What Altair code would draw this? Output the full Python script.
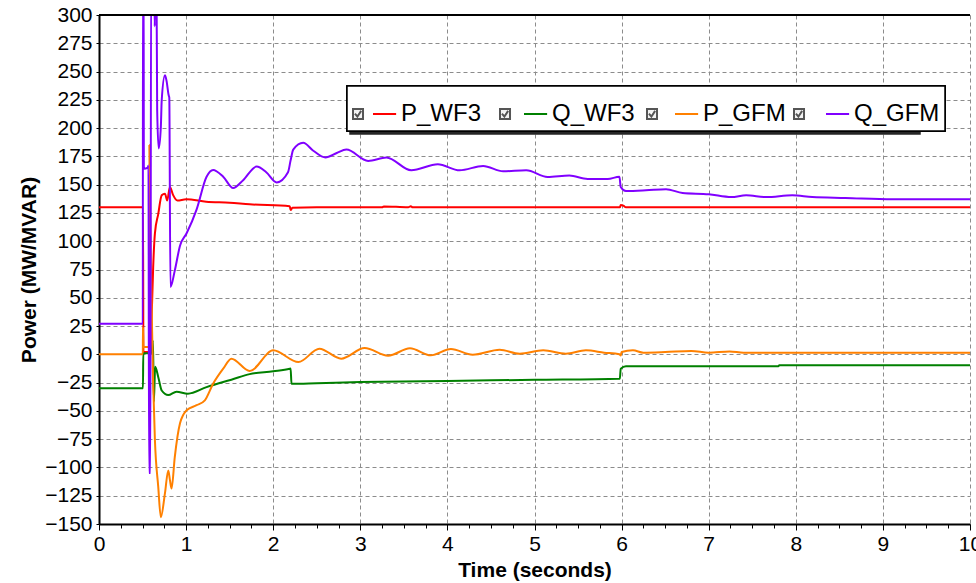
import altair as alt
import pandas as pd

FONT = "Liberation Sans"

series_names = ["P_WF3", "Q_WF3", "P_GFM", "Q_GFM"]
series_colors = ["#ff0000", "#008000", "#ff8000", "#8000ff"]

# P_WF3 (red)
p_wf3_t = [0, 0.505, 0.51, 0.59, 0.60, 0.61, 0.622, 0.642, 0.68, 0.72, 0.757, 0.783, 0.814, 0.85, 0.9,
           1.0, 1.23, 1.5, 1.73, 2.19, 2.2, 2.22, 2.5, 3.25, 3.27, 3.55, 3.58, 3.6, 5.98, 5.99, 6.02, 6.05, 10]
p_wf3_v = [130, 130, 2, 2, 25, 47, 77, 107, 124, 140.6, 142, 136, 148, 141, 136,
           137, 135, 134, 132.6, 131, 127.5, 129.5, 130, 130, 130.8, 130, 131, 130, 130, 132, 131.5, 130, 130]

# Q_WF3 (green)
q_wf3_t = [0, 0.505, 0.508, 0.60, 0.62, 0.63, 0.645, 0.68, 0.72, 0.795, 0.89, 1.02, 1.235, 1.426, 1.52,
           1.73, 2.0, 2.19, 2.2, 2.21, 2.5, 3.0, 4.0, 5.0, 5.98, 5.99, 6.05, 7.8, 7.81, 10]
q_wf3_v = [-30, -30, 1, 1, 12, -42, -11, -20, -32, -36, -33, -34.8, -29, -24.5, -22.4,
           -17.5, -15, -12.7, -12.5, -26, -25.5, -24.5, -23.5, -22.5, -21.5, -12.7, -10.6, -10.6, -9.7, -9.7]

# P_GFM (orange)
p_gfm_t = [0, 0.503, 0.505, 0.51, 0.575, 0.578, 0.58, 0.6, 0.62, 0.642, 0.68, 0.71, 0.757, 0.795, 0.814,
           0.833, 0.87, 0.93, 1.006, 1.12, 1.215, 1.31, 1.426, 1.52, 1.73, 2.0, 2.29,
           2.53, 2.78, 3.05, 3.32, 3.57, 3.81, 4.04, 4.29,
           4.6, 4.83, 5.1, 5.36, 5.59, 5.8, 5.975, 5.99, 6.0, 6.13, 6.25,
           6.5, 6.8, 7.0, 7.24, 7.4, 10]
p_gfm_v = [0, 0, 24, 6.5, 6.5, 185, 167, 60, -20, -76, -117, -144, -123, -102.6, -111,
           -118.7, -90.8, -61, -49.5, -45, -40.7, -26, -12.7, -3.8, -14.7, 3.5, -6.8,
           5, -3.8, 5.6, -1.2, 5.3, -0.9, 4.7, -0.3,
           4.1, 0.6, 3.5, 0.6, 3.5, 1.5, 0, -1, 2, 3.5, 1.5,
           2, 3, 1.5, 2.6, 1.5, 1.5]

# Q_GFM (purple)
q_gfm_t = [0, 0.503, 0.505, 0.512, 0.515, 0.56, 0.568, 0.575, 0.59, 0.598, 0.63, 0.64, 0.648, 0.66,
           0.668, 0.685, 0.71, 0.72, 0.757, 0.775, 0.8, 0.807, 0.82, 0.87, 0.93, 1.006, 1.12, 1.235,
           1.31, 1.426, 1.54, 1.655, 1.81, 1.92, 2.04, 2.17, 2.2, 2.23, 2.345, 2.46, 2.6, 2.73, 2.84,
           3.09, 3.3, 3.585, 3.89, 4.14, 4.41, 4.64, 4.905, 5.15, 5.40, 5.61, 5.84, 5.975,
           5.99, 6.05, 6.28, 6.51, 6.70, 7.0, 7.26, 7.43, 7.66, 7.96, 8.19, 8.57, 9.11, 10]
q_gfm_v = [27, 27, 340, 340, 164, 165, 167, -105, -105, 340, 340, 290, 340, 330,
           216, 182, 201, 224.6, 246.7, 242, 229, 227, 59.5, 74, 96, 107, 128, 157,
           163, 157, 147, 154, 166, 161, 152, 161, 171.5, 181, 187, 180, 174, 178, 181,
           171, 174, 162.7, 168, 162.7, 166.5, 161.8, 162.7, 156.8, 158, 155, 155, 157,
           148, 144.4, 145, 146, 142.6, 141.5, 139, 140.6, 139, 140.6, 139, 138.2, 137, 137]

x_ticks = [i * 0.25 for i in range(41)]
y_ticks = list(range(-150, 301, 25))

frames = []
for name, ts, vs in [("P_WF3", p_wf3_t, p_wf3_v), ("Q_WF3", q_wf3_t, q_wf3_v),
                     ("P_GFM", p_gfm_t, p_gfm_v), ("Q_GFM", q_gfm_t, q_gfm_v)]:
    frames.append(pd.DataFrame({"t": ts, "v": vs, "series": name}))
df = pd.concat(frames, ignore_index=True)

x_scale = alt.Scale(domain=[0, 10], nice=False, zero=False)
y_scale = alt.Scale(domain=[-150, 300], nice=False, zero=False)

x_axis = alt.Axis(
    values=x_ticks, title="Time (seconds)",
    labelExpr="datum.value % 1 === 0 ? '' + datum.value : ''",
    labelOverlap=False, labelFlush=False,
    gridOpacity={"condition": {"test": "datum.value % 1 === 0", "value": 1}, "value": 0},
    tickSize={"condition": {"test": "datum.value % 1 === 0", "value": 6}, "value": 4},
    labelPadding=3, titlePadding=5,
)
y_axis = alt.Axis(values=y_ticks, title="Power (MW/MVAR)", labelOverlap=False, labelFlush=False,
                  tickSize=3, labelPadding=4, titlePadding=5)

# legend layout: all legends share the same symbol box (44 px) and column width
LEG_X, LEG_Y, LEG_PAD, COL_PAD, LAB_SIZE = 248, 71, 5, 16, 24
SYM_SIZE = 44 * 44
line_path = "M-0.09,0H0.96"                       # coloured line, right part of the symbol box
checkbox_path = ("M-1,-0.227H-0.545V0.227H-1Z "
                 "M-0.91,-0.02L-0.80,0.12L-0.63,-0.14")  # small check box, left part
QGFM_LABEL_W = 85.34  # width of the widest label ("Q_GFM") at 24 px
SPACE_W = 6.67


def legend_props(**extra):
    base = dict(
        title=None, orient="none", direction="horizontal",
        symbolSize=SYM_SIZE, symbolStrokeWidth=2, symbolOffset=0,
        labelFontSize=LAB_SIZE, labelFont=FONT,
        padding=LEG_PAD, columnPadding=COL_PAD, gridAlign="all", labelLimit=0,
    )
    base.update(extra)
    return alt.Legend(**base)


color = alt.Color(
    "series:N",
    scale=alt.Scale(domain=series_names, range=series_colors),
    legend=legend_props(
        legendX=LEG_X, legendY=LEG_Y, symbolType=line_path,
        labelOffset=3, labelColor="black",
        strokeColor="black", fillColor="white", zindex=1,
    ),
)

layers = []
for name in series_names:
    layers.append(
        alt.Chart(df).transform_filter(alt.datum.series == name)
        .mark_line(strokeWidth=2, clip=True, interpolate="monotone")
        .encode(
            x=alt.X("t:Q", scale=x_scale, axis=x_axis),
            y=alt.Y("v:Q", scale=y_scale, axis=y_axis),
            color=color,
            order="t:Q",
        )
    )

# check boxes of the legend entries (drawn over the legend) and the legend's drop shadow (under it)
cb_df = pd.DataFrame({"t": [0] * 4, "v": [0] * 4, "cb": series_names, "sh": series_names})
checkbox_layer = alt.Chart(cb_df).mark_point(opacity=0, clip=True).encode(
    x=alt.X("t:Q", scale=x_scale, axis=x_axis),
    y=alt.Y("v:Q", scale=y_scale, axis=y_axis),
    shape=alt.Shape(
        "cb:N", sort=series_names,
        scale=alt.Scale(range=[checkbox_path] * 4),
        legend=legend_props(
            legendX=LEG_X, legendY=LEG_Y, symbolOpacity=1,
            symbolStrokeColor="#555555", symbolFillColor="#f2f2f2",
            labelExpr="' '", labelOffset=3 + QGFM_LABEL_W - SPACE_W, zindex=2,
        ),
    ),
    fill=alt.Fill(
        "sh:N", sort=series_names,
        scale=alt.Scale(range=["#000000"] * 4),
        legend=legend_props(
            legendX=LEG_X + 3, legendY=LEG_Y + 3, symbolType=checkbox_path, symbolOpacity=0,
            labelExpr="' '", labelOffset=3 + QGFM_LABEL_W - SPACE_W,
            fillColor="#262626", strokeColor="#262626", zindex=0,
        ),
    ),
)

top_border = alt.Chart(pd.DataFrame({"v": [300]})).mark_rule(color="black", strokeWidth=2).encode(
    y=alt.Y("v:Q", scale=y_scale, axis=y_axis)
)

chart = alt.layer(*layers, checkbox_layer, top_border).resolve_legend(
    color="independent", shape="independent", fill="independent"
).properties(
    width=871, height=509,
    padding={"left": 99, "top": 15, "right": 6, "bottom": 59},
    autosize=alt.AutoSizeParams(type="none"),
).configure_view(stroke=None).configure_axis(
    labelFont=FONT, labelFontSize=21, labelColor="black",
    titleFont=FONT, titleFontSize=21, titleFontWeight="bold", titleColor="black",
    domainColor="black", domainWidth=2, tickColor="black", tickWidth=1,
    gridColor="#8c8c8c", gridDash=[4, 3], gridWidth=1,
).configure_legend(strokeWidth=1.5)

chart.save("out.html", embed_options={"renderer": "svg", "actions": False})
